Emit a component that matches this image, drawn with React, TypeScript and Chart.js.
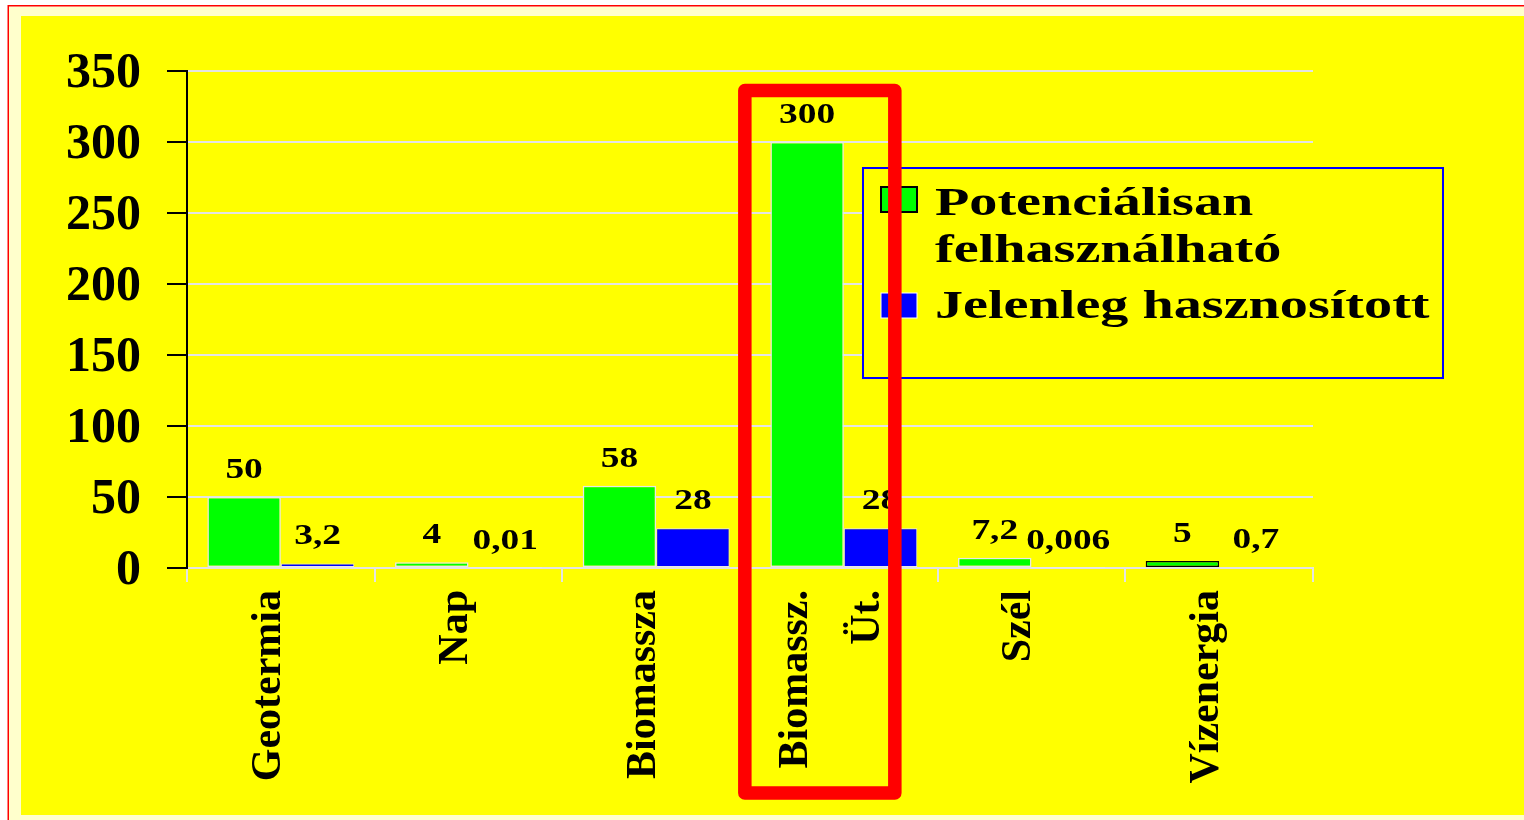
import React, { useEffect, useRef } from 'react';
import { Chart, registerables } from 'chart.js';

Chart.register(...registerables);

// ---- data ----
const CATEGORIES: string[][] = [
  ['', 'Geotermia'],
  ['', 'Nap'],
  ['', 'Biomassza'],
  ['Biomassz.', '', 'Üt.'],
  ['', 'Szél'],
  ['', 'Vízenergia'],
];
const SERIES_NAMES = ['Potenciálisan felhasználható', 'Jelenleg hasznosított'];
const LEGEND_LINES: string[][] = [['Potenciálisan', 'felhasználható'], ['Jelenleg hasznosított']];
const POTENTIAL = [50, 4, 58, 300, 7.2, 5];
const CURRENT = [3.2, 0.01, 28, 28, 0.006, 0.7];
const Y_MIN = 0;
const Y_MAX = 350;
const Y_STEP = 50;
const HIGHLIGHT_INDEX = 3;

const FONT = '"Liberation Serif", "Times New Roman", Times, serif';
const GRID = '#e4e4e4';

const framePlugin = {
  id: 'frame',
  beforeDraw(chart: any) {
    const { ctx, width, height } = chart;
    ctx.save();
    ctx.fillStyle = '#ffffff';
    ctx.fillRect(0, 0, width, height);
    ctx.fillStyle = '#ffffcc';
    ctx.fillRect(9, 6.5, width, height);
    ctx.fillStyle = '#ffff00';
    ctx.fillRect(21, 16, width - 21, 799);
    ctx.strokeStyle = '#ff0000';
    ctx.lineWidth = 1.5;
    ctx.beginPath();
    ctx.moveTo(8.25, height + 5);
    ctx.lineTo(8.25, 5.75);
    ctx.lineTo(width + 5, 5.75);
    ctx.stroke();
    ctx.restore();
  },
};

const valueLabelPlugin = {
  id: 'valueLabels',
  afterDatasetsDraw(chart: any) {
    const ctx = chart.ctx;
    ctx.save();
    ctx.fillStyle = '#000';
    ctx.font = `bold 29px ${FONT}`;
    ctx.textAlign = 'center';
    ctx.textBaseline = 'alphabetic';
    chart.data.datasets.forEach((ds: any, di: number) => {
      const meta = chart.getDatasetMeta(di);
      meta.data.forEach((el: any, i: number) => {
        const text = String(ds.data[i]).replace('.', ',');
        ctx.save();
        ctx.translate(el.x, el.y - 19);
        ctx.scale(1.29, 1);
        ctx.fillText(text, 0, 0);
        ctx.restore();
      });
    });
    ctx.restore();
  },
};

const legendAndHighlightPlugin = {
  id: 'legendHighlight',
  afterDraw(chart: any) {
    const ctx = chart.ctx;
    const area = chart.chartArea;
    ctx.save();
    // legend box
    const bx = area.right - 450;
    const by = area.top + 97;
    const bw = 580;
    const bh = 210;
    ctx.fillStyle = '#ffff00';
    ctx.fillRect(bx, by, bw, bh);
    ctx.strokeStyle = '#0000ff';
    ctx.lineWidth = 2;
    ctx.strokeRect(bx, by, bw, bh);
    const itemTops = [19, 125];
    const baselines = [[47, 94], [150]];
    const squareBorders = ['#000000', '#ffffff'];
    chart.data.datasets.forEach((ds: any, i: number) => {
      const sx = bx + 18;
      const sy = by + itemTops[i];
      ctx.fillStyle = ds.backgroundColor;
      ctx.fillRect(sx, sy, 36, 25);
      ctx.strokeStyle = squareBorders[i];
      ctx.lineWidth = i === 0 ? 2 : 1;
      ctx.strokeRect(sx, sy, 36, 25);
      ctx.fillStyle = '#000';
      ctx.font = `bold 41px ${FONT}`;
      ctx.textAlign = 'left';
      ctx.textBaseline = 'alphabetic';
      LEGEND_LINES[i].forEach((line, li) => {
        ctx.save();
        ctx.translate(bx + 72, by + baselines[i][li]);
        ctx.scale(1.37, 1);
        ctx.fillText(line, 0, 0);
        ctx.restore();
      });
    });
    // highlight box
    const c = chart.scales.x.getPixelForValue(HIGHLIGHT_INDEX);
    const left = c - 99;
    const right = c + 51;
    const top = area.top + 19.5;
    const bottom = area.bottom + 225;
    ctx.strokeStyle = '#ff0000';
    ctx.lineWidth = 13.5;
    ctx.lineJoin = 'round';
    ctx.strokeRect(left, top, right - left, bottom - top);
    ctx.restore();
  },
};

export default function App() {
  const ref = useRef<HTMLCanvasElement>(null);
  useEffect(() => {
    if (!ref.current) return;
    const edge = '#e8e8e8';
    const chart = new Chart(ref.current, {
      type: 'bar',
      data: {
        labels: CATEGORIES,
        datasets: [
          {
            label: SERIES_NAMES[0],
            data: POTENTIAL,
            backgroundColor: '#00ff00',
            borderColor: [edge, edge, edge, edge, edge, '#000000'],
            borderWidth: 1.5,
            borderSkipped: false,
            categoryPercentage: 0.783,
            barPercentage: 1,
          },
          {
            label: SERIES_NAMES[1],
            data: CURRENT,
            backgroundColor: '#0000ff',
            borderColor: edge,
            borderWidth: 1,
            borderSkipped: false,
            categoryPercentage: 0.783,
            barPercentage: 1,
          },
        ],
      },
      options: {
        responsive: true,
        maintainAspectRatio: false,
        animation: false,
        layout: { padding: { left: 0, right: 211, top: 71, bottom: 0 } },
        plugins: {
          legend: { display: false },
          tooltip: { enabled: false },
        },
        scales: {
          x: {
            afterFit: (s: any) => {
              s.height = 252;
            },
            border: { display: true, color: GRID, width: 2 },
            grid: {
              drawOnChartArea: false,
              drawTicks: true,
              tickLength: 14,
              color: GRID,
              lineWidth: 2,
            },
            ticks: {
              autoSkip: false,
              minRotation: 90,
              maxRotation: 90,
              padding: 8,
              labelOffset: -48,
              color: '#000',
              font: { family: FONT, size: 42, weight: 'bold', lineHeight: '36px' },
            },
          },
          y: {
            min: Y_MIN,
            max: Y_MAX,
            afterFit: (s: any) => {
              s.width = 187;
            },
            border: { display: true, color: '#000', width: 2 },
            grid: {
              color: GRID,
              lineWidth: 2,
              tickColor: '#000',
              tickWidth: 2,
              tickLength: 20,
              drawTicks: true,
            },
            ticks: {
              stepSize: Y_STEP,
              padding: 26,
              labelOffset: 3,
              color: '#000',
              font: { family: FONT, size: 50, weight: 'bold' },
            },
          },
        },
      } as any,
      plugins: [framePlugin, valueLabelPlugin, legendAndHighlightPlugin],
    });
    return () => chart.destroy();
  }, []);
  return (
    <div style={{ position: 'absolute', left: 0, top: 0, width: 1524, height: 820 }}>
      <canvas ref={ref} />
    </div>
  );
}
